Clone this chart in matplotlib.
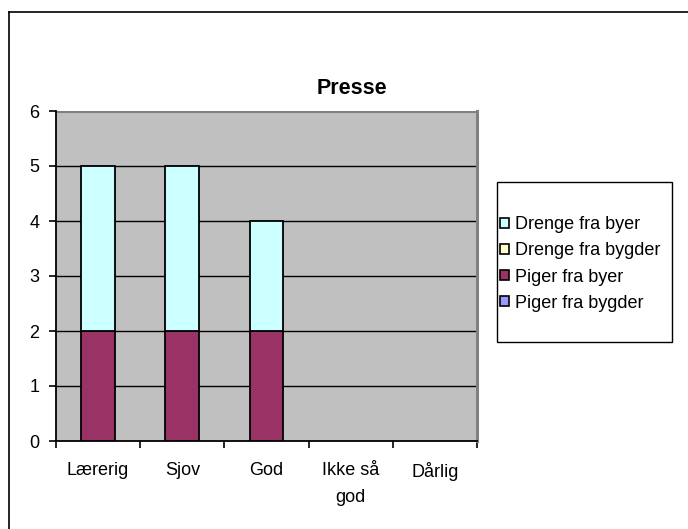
import matplotlib
matplotlib.use("Agg")
import matplotlib.pyplot as plt
from matplotlib.patches import Patch, Rectangle
from matplotlib.lines import Line2D
import numpy as np

categories = ["Lærerig", "Sjov", "God", "Ikke så\ngod", "Dårlig"]
piger_bygder = [0, 0, 0, 0, 0]
piger_byer = [2, 2, 2, 0, 0]
drenge_bygder = [0, 0, 0, 0, 0]
drenge_byer = [3, 3, 2, 0, 0]

# stacking order bottom -> top, as in the excel chart
series = [("Piger fra bygder", piger_bygder, "#9999FF"),
          ("Piger fra byer", piger_byer, "#993366"),
          ("Drenge fra bygder", drenge_bygder, "#FFFFCC"),
          ("Drenge fra byer", drenge_byer, "#CCFFFF")]

plt.rcParams['font.family'] = ['Liberation Sans', 'DejaVu Sans']

W, H = 688, 529
fig = plt.figure(figsize=(W / 100, H / 100), dpi=100)

def fx(px):
    return px / W

def fy(py):
    return 1 - py / H

ax = fig.add_axes([fx(56), fy(441), fx(477) - fx(56), fy(111) - fy(441)])
ax.set_facecolor("#C0C0C0")

x = np.arange(len(categories))
bottom = np.zeros(len(categories))
for name, vals, col in series:
    vals = np.array(vals, dtype=float)
    lw = [1.3 if v > 0 else 0 for v in vals]
    ax.bar(x, vals, 0.40, bottom=bottom, color=col, edgecolor="black",
           linewidth=lw, zorder=3)
    bottom += vals

ax.set_xlim(-0.5, len(categories) - 0.5)
ax.set_ylim(0, 6)
ax.set_yticks(range(0, 7))
for yv in range(1, 6):
    ax.axhline(yv, color="black", lw=1.0, zorder=1)
ax.axhline(6, color="#808080", lw=2.2, zorder=1)

ax.set_xticks(np.arange(-0.5, len(categories)), minor=False)
ax.set_xticklabels([])
ax.set_xticks(x, minor=True)
ax.set_xticklabels(categories, minor=True, fontsize=13, linespacing=1.75, va="top")
ax.tick_params(axis="x", which="major", length=5, width=1.2, direction="out", color="black")
ax.tick_params(axis="x", which="minor", length=0, pad=15)
ax.tick_params(axis="y", length=5, width=1.2, direction="out", labelsize=13, pad=7)

for s in ["left", "bottom"]:
    ax.spines[s].set_color("black")
    ax.spines[s].set_linewidth(1.3)
ax.spines["right"].set_color("#808080")
ax.spines["right"].set_linewidth(2.2)
ax.spines["top"].set_visible(False)

fig.text(fx(352), fy(88), "Presse", fontsize=15.5, fontweight="bold",
         ha="center", va="center")

# legend box
fig.patches.append(Rectangle((fx(497), fy(342)), fx(672) - fx(497), fy(182) - fy(342),
                             transform=fig.transFigure, facecolor="white",
                             edgecolor="black", lw=1.0))
handles = [Patch(facecolor=col, edgecolor="black", lw=1.2, label=name)
           for name, vals, col in reversed(series)]
fig.legend(handles=handles, loc="center left", bbox_to_anchor=(fx(500), fy(264)),
           frameon=False, fontsize=13, handlelength=0.5, handleheight=0.5,
           handletextpad=0.35, labelspacing=0.5, borderpad=0, borderaxespad=0)

# chart border (top and left only visible)
fig.add_artist(Line2D([fx(9), 1], [fy(12), fy(12)], color="black", lw=1.2,
                      transform=fig.transFigure))
fig.add_artist(Line2D([fx(9), fx(9)], [fy(12), 0], color="black", lw=1.2,
                      transform=fig.transFigure))

fig.savefig("out.png", dpi=100)
